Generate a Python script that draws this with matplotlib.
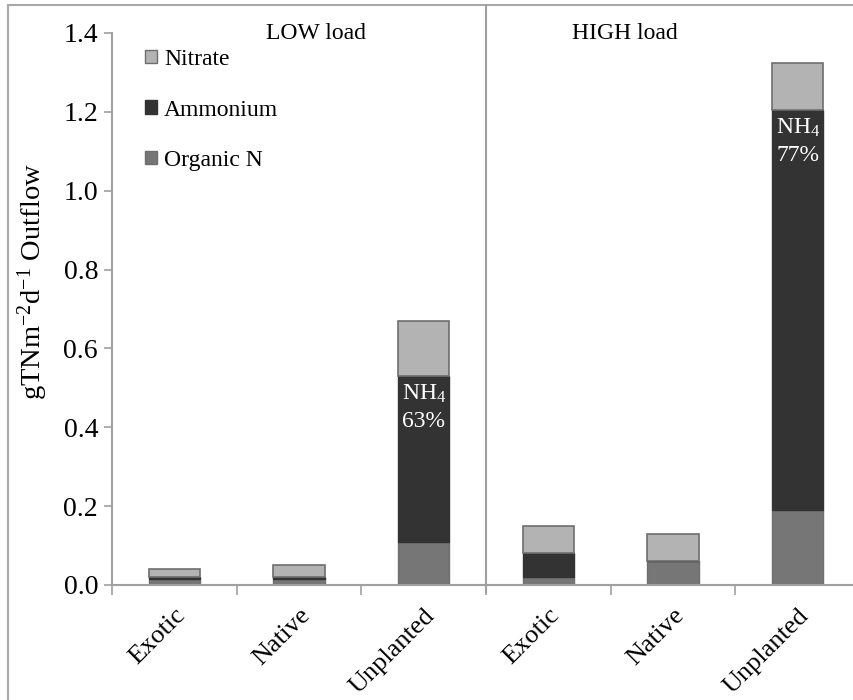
import numpy as np
import matplotlib
matplotlib.use("Agg")
import matplotlib.pyplot as plt
from matplotlib.patches import Patch, Rectangle
from matplotlib.lines import Line2D
from matplotlib.transforms import blended_transform_factory

serif = ['Liberation Serif', 'DejaVu Serif']
plt.rcParams['font.family'] = serif
plt.rcParams['mathtext.fontset'] = 'custom'
plt.rcParams['mathtext.rm'] = 'Liberation Serif'
plt.rcParams['mathtext.it'] = 'Liberation Serif:italic'

# N export per treatment, LOW load then HIGH load
categories = ['Exotic', 'Native', 'Unplanted', 'Exotic', 'Native', 'Unplanted']
organic_n = [0.015, 0.015, 0.11, 0.02, 0.06, 0.19]
ammonium = [0.005, 0.005, 0.42, 0.06, 0.0, 1.015]
nitrate = [0.02, 0.03, 0.14, 0.07, 0.07, 0.12]
groups = ['LOW load', 'HIGH load']

c_org = '#767676'
c_amm = '#333333'
c_nit = '#B3B3B3'
edge = '#6E6E6E'
axis_grey = '#A0A0A0'

fig = plt.figure(figsize=(8.54, 7.0), dpi=100)
ax = fig.add_axes([112 / 854, 115 / 700, 748 / 854, 552 / 700])

x = np.arange(len(categories)) + 0.5
org = np.array(organic_n)
amm = np.array(ammonium)
nit = np.array(nitrate)
w = 0.41
ax.bar(x, org, w, color=c_org, edgecolor=edge, linewidth=1)
ax.bar(x, amm, w, bottom=org, color=c_amm, edgecolor=c_amm, linewidth=1)
ax.bar(x, nit, w, bottom=org + amm, color=c_nit, edgecolor=edge, linewidth=1.2)

# ammonium share labels on the unplanted bars
for i in (2, 5):
    total = org[i] + amm[i] + nit[i]
    share = amm[i] / total * 100
    top = org[i] + amm[i]
    ax.text(x[i], top - 0.045, r'NH$_4$', color='white',
            ha='center', va='center', fontsize=17, family=serif)
    ax.text(x[i], top - 0.116, f'{share:.0f}%', color='white',
            ha='center', va='center', fontsize=17, family=serif)

ax.set_xlim(0, len(categories))
ax.set_ylim(0, 1.4)
ax.set_yticks(np.arange(0, 1.41, 0.2))
ax.set_yticklabels([f'{v:.1f}' for v in np.arange(0, 1.41, 0.2)], fontsize=20, family=serif)
ax.set_xticks(np.arange(len(categories) + 1))
ax.set_xticklabels([])
ax.set_xticks(x, minor=True)
ax.set_xticklabels(categories, minor=True, rotation=45, ha='right', va='top',
                   rotation_mode='anchor', fontsize=19, family=serif)
ax.tick_params(axis='x', which='minor', length=0, pad=14)
ax.tick_params(axis='x', which='major', length=7, color=axis_grey, width=1.2)
ax.tick_params(axis='y', length=6, color=axis_grey, width=1.2, pad=4)

for s in ('top', 'right'):
    ax.spines[s].set_visible(False)
for s in ('left', 'bottom'):
    ax.spines[s].set_color(axis_grey)
    ax.spines[s].set_linewidth(1.5)

ax.set_ylabel(r'gTNm$^{-2}$d$^{-1}$ Outflow', fontsize=20.5, family=serif)
ax.yaxis.set_label_coords(-0.083, 0.55)

ax.text(1.64, 1.4, groups[0], ha='center', va='center', fontsize=17, family=serif)
ax.text(4.11, 1.4, groups[1], ha='center', va='center', fontsize=17, family=serif)

# vertical divider between load levels and outer frame
tr = blended_transform_factory(ax.transData, fig.transFigure)
fig.add_artist(Line2D([3, 3], [1 - 5 / 700, 1 - 592 / 700], transform=tr,
                      color=axis_grey, lw=1.5))
fig.add_artist(Rectangle((8 / 854, -0.1), 2, 1 - 5 / 700 + 0.1, transform=fig.transFigure,
                         fill=False, edgecolor='#A8A8A8', lw=1.5))

handles = [Patch(facecolor=c_nit, edgecolor=edge),
           Patch(facecolor=c_amm, edgecolor=c_amm),
           Patch(facecolor=c_org, edgecolor=edge)]
ax.legend(handles, ['Nitrate', 'Ammonium', 'Organic N'], loc='upper left',
          bbox_to_anchor=(145 / 854, 1 - 49 / 700), bbox_transform=fig.transFigure,
          frameon=False, prop={'family': serif, 'size': 17},
          handlelength=0.5, handleheight=0.5,
          handletextpad=0.3, labelspacing=1.25, borderpad=0, borderaxespad=0)

fig.savefig('out.png', dpi=100)
